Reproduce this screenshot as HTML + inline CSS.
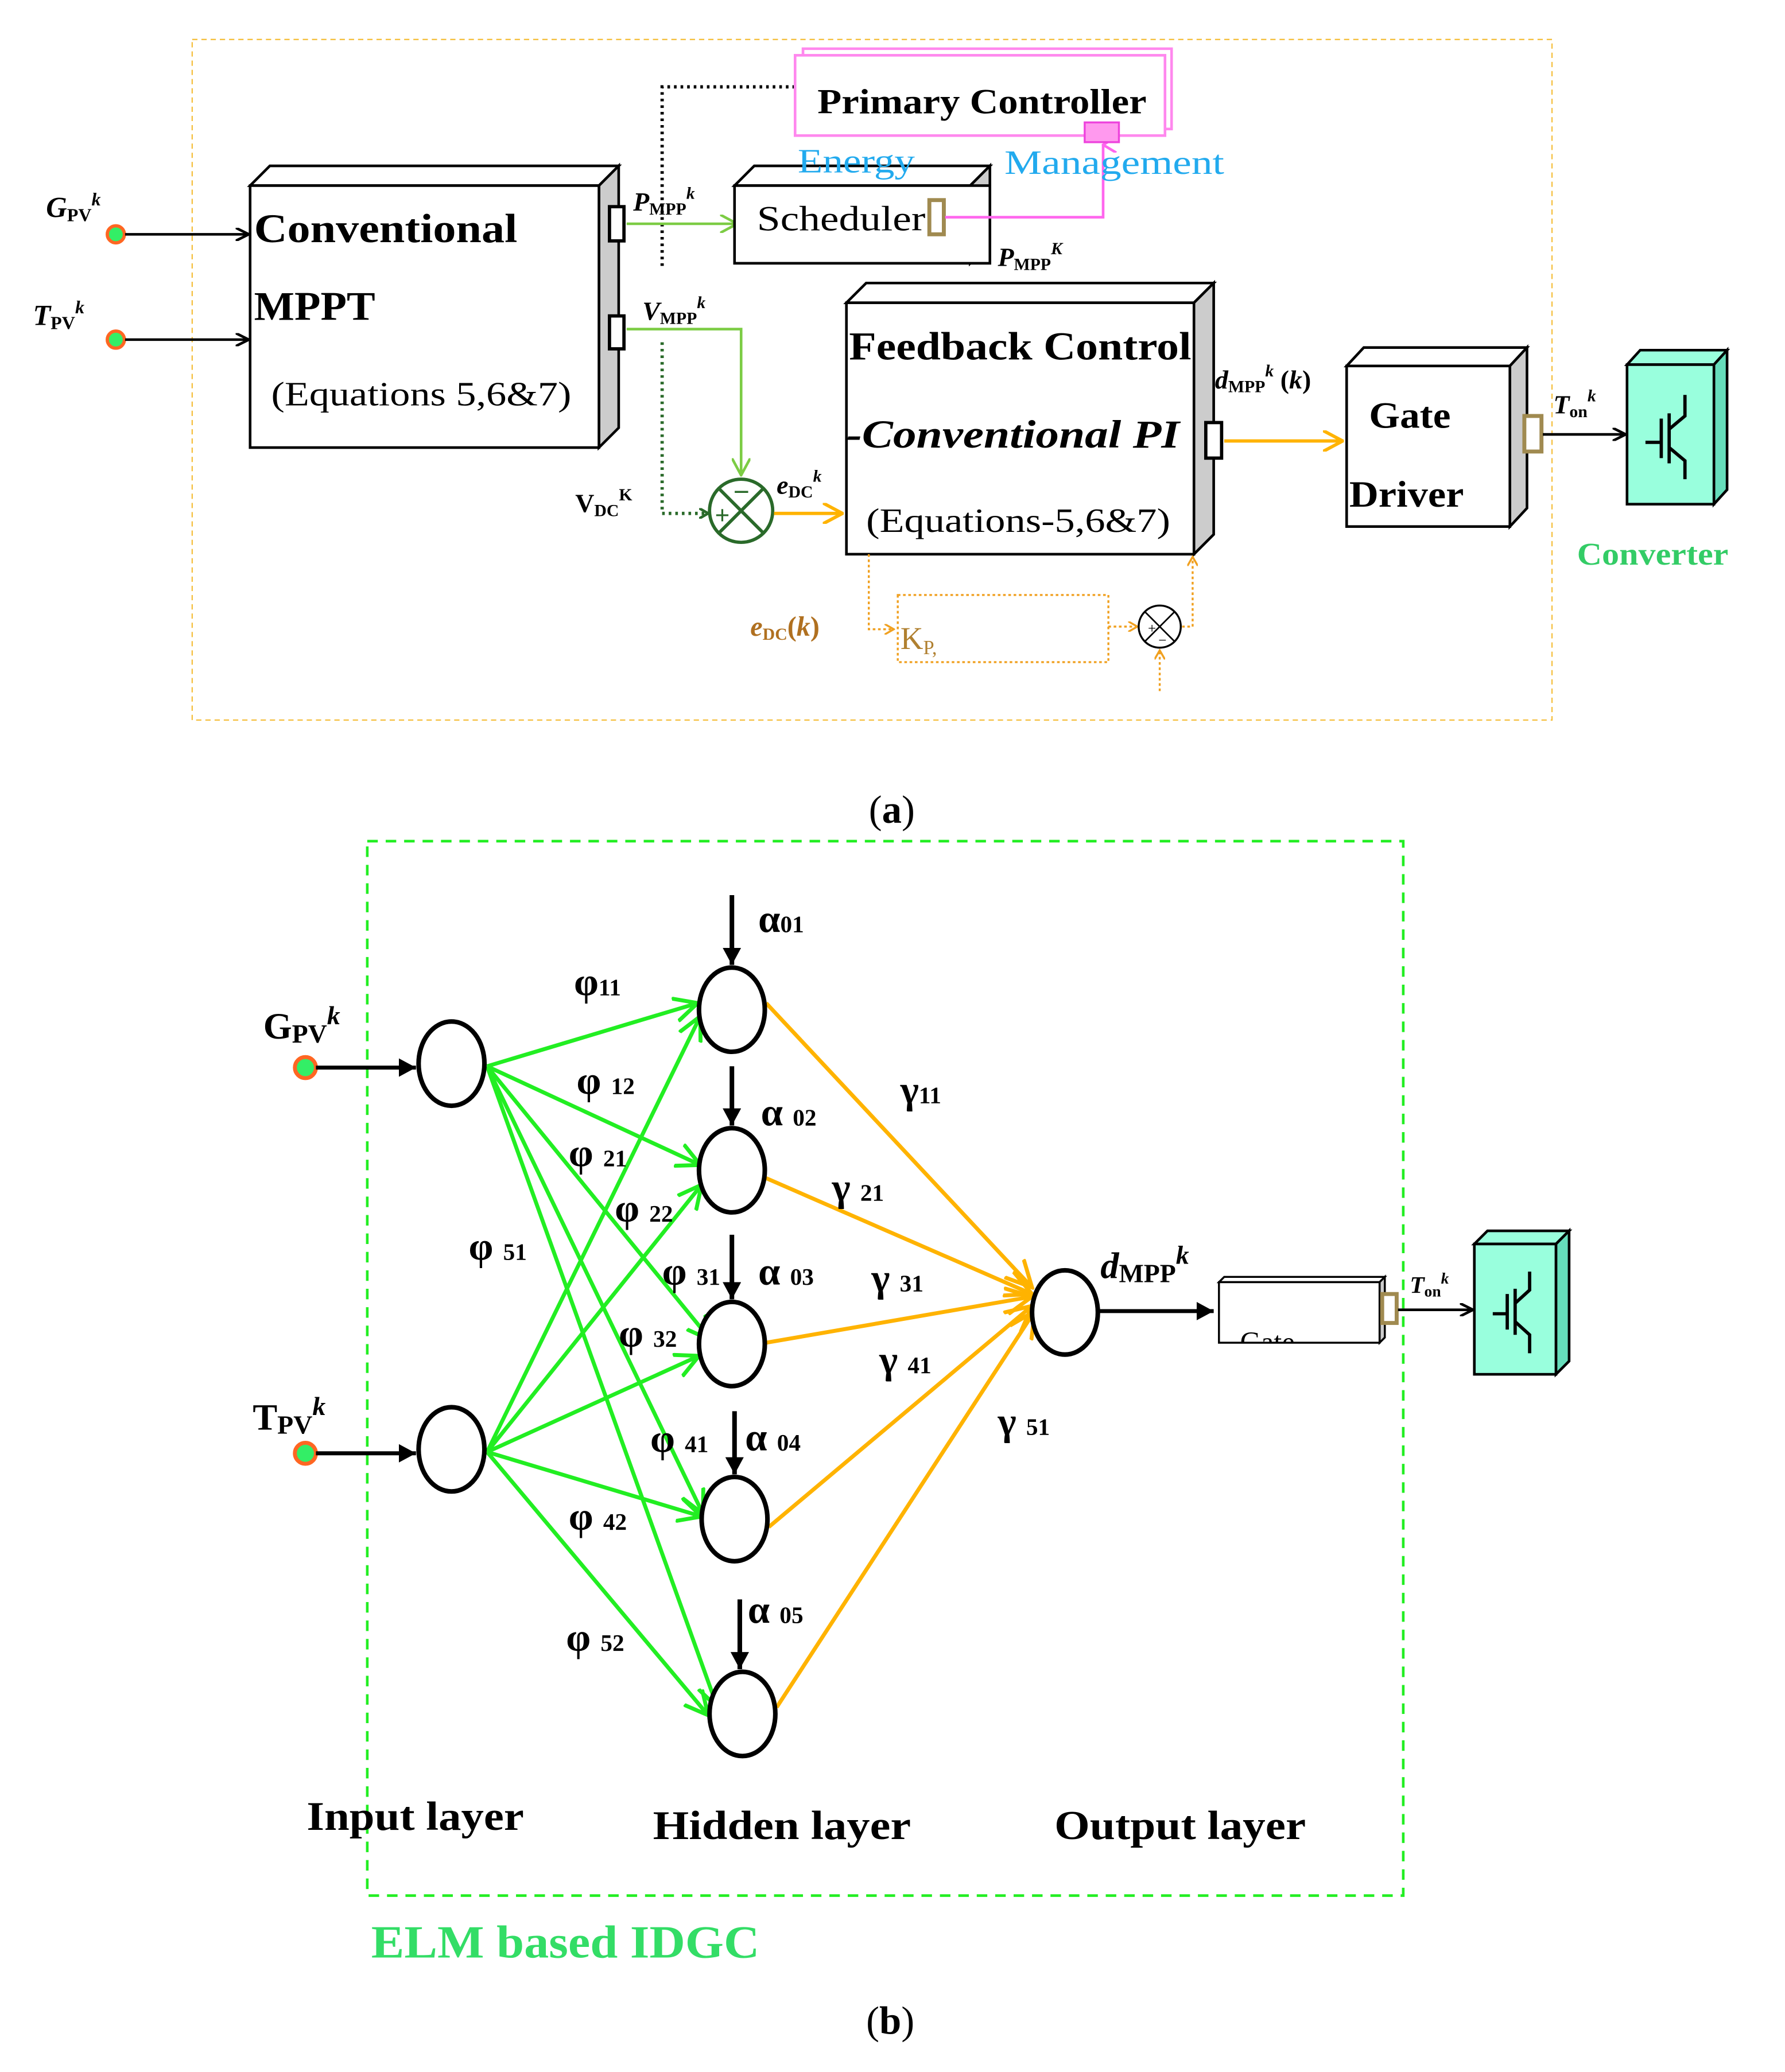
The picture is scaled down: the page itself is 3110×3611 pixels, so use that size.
<!DOCTYPE html>
<html><head><meta charset="utf-8"><style>
html,body{margin:0;padding:0;background:#fff}
svg{display:block}
text{font-family:"Liberation Serif",serif}
.b{font-weight:bold}
</style></head><body>
<svg xmlns="http://www.w3.org/2000/svg" width="3110" height="3611" viewBox="0 0 1356 1574" preserveAspectRatio="none">
<defs>
<marker id="ak" markerWidth="10" markerHeight="10" refX="9" refY="5" orient="auto" markerUnits="userSpaceOnUse"><path d="M0,0 L10,5 L0,10" fill="none" stroke="#000" stroke-width="2"/></marker>
<marker id="ag" markerWidth="14" markerHeight="14" refX="13" refY="7" orient="auto" markerUnits="userSpaceOnUse"><path d="M0,0 L13,7 L0,14" fill="none" stroke="#7ccc44" stroke-width="2"/></marker>
<marker id="agg" markerWidth="20" markerHeight="20" refX="18" refY="10" orient="auto" markerUnits="userSpaceOnUse"><path d="M0,1 L18,10 L0,19" fill="none" stroke="#22ee22" stroke-width="3"/></marker>
<marker id="ao" markerWidth="16" markerHeight="16" refX="15" refY="8" orient="auto" markerUnits="userSpaceOnUse"><path d="M0,0 L15,8 L0,16" fill="none" stroke="#ffb300" stroke-width="2.5"/></marker>
<marker id="aoo" markerWidth="22" markerHeight="22" refX="20" refY="11" orient="auto" markerUnits="userSpaceOnUse"><path d="M0,1 L20,11 L0,21" fill="none" stroke="#ffb300" stroke-width="3"/></marker>
<marker id="ap" markerWidth="12" markerHeight="12" refX="6" refY="1" orient="auto-start-reverse" markerUnits="userSpaceOnUse"><path d="M0,11 L6,1 L12,11" fill="none" stroke="#ff66ee" stroke-width="2"/></marker>
<marker id="ab" markerWidth="14" markerHeight="14" refX="13" refY="7" orient="auto" markerUnits="userSpaceOnUse"><path d="M0,0 L13,7 L0,14 Z" fill="#000"/></marker>
<marker id="ad" markerWidth="8" markerHeight="8" refX="7" refY="4" orient="auto" markerUnits="userSpaceOnUse"><path d="M0,0 L7,4 L0,8" fill="none" stroke="#2a6a2a" stroke-width="2"/></marker>
<marker id="aod" markerWidth="8" markerHeight="8" refX="7" refY="4" orient="auto" markerUnits="userSpaceOnUse"><path d="M0,0 L7,4 L0,8" fill="none" stroke="#f0a020" stroke-width="1.5"/></marker>
<clipPath id="clipE"><rect x="600" y="112" width="160" height="30"/></clipPath>
<clipPath id="clipG"><rect x="926" y="974" width="122" height="46"/></clipPath>
</defs>

<rect x="146" y="30" width="1033" height="517" fill="none" stroke="#f5c040" stroke-width="1" stroke-dasharray="4,3"/>

<polyline points="604,66 503,66 503,205" fill="none" stroke="#000" stroke-width="2.5" stroke-dasharray="2,3"/>
<polyline points="503,260 503,390 538,390" fill="none" stroke="#2a6a2a" stroke-width="2.5" stroke-dasharray="2,3" marker-end="url(#ad)"/>

<polygon points="190,141 205,126 470,126 455,141" fill="#fff" stroke="#000" stroke-width="2"/>
<polygon points="455,141 470,126 470,325 455,340" fill="#ccc" stroke="#000" stroke-width="2"/>
<rect x="190" y="141" width="265" height="199" fill="#fff" stroke="#000" stroke-width="2"/>
<text x="193" y="184" font-size="31" class="b" textLength="200" lengthAdjust="spacingAndGlyphs">Conventional</text>
<text x="193" y="243" font-size="31" class="b" textLength="92" lengthAdjust="spacingAndGlyphs">MPPT</text>
<text x="206" y="308" font-size="26" textLength="228" lengthAdjust="spacingAndGlyphs">(Equations 5,6&amp;7)</text>
<rect x="463" y="157" width="11" height="26" fill="#fff" stroke="#000" stroke-width="2.5"/>
<rect x="463" y="240" width="11" height="25" fill="#fff" stroke="#000" stroke-width="2.5"/>

<text x="35" y="165" font-size="22" class="b" font-style="italic">G<tspan font-size="14" dy="3" font-style="normal">PV</tspan><tspan font-size="14" dy="-12">k</tspan></text>
<circle cx="88" cy="178" r="6.5" fill="#33ee66" stroke="#ff6622" stroke-width="2.5"/>
<line x1="95" y1="178" x2="188" y2="178" stroke="#000" stroke-width="2" marker-end="url(#ak)"/>
<text x="25" y="247" font-size="22" class="b" font-style="italic">T<tspan font-size="14" dy="3" font-style="normal">PV</tspan><tspan font-size="14" dy="-12">k</tspan></text>
<circle cx="88" cy="258" r="6.5" fill="#33ee66" stroke="#ff6622" stroke-width="2.5"/>
<line x1="95" y1="258" x2="188" y2="258" stroke="#000" stroke-width="2" marker-end="url(#ak)"/>

<text x="481" y="160" font-size="20" class="b" font-style="italic">P<tspan font-size="13" dy="3" font-style="normal">MPP</tspan><tspan font-size="13" dy="-12">k</tspan></text>
<line x1="476" y1="170" x2="560" y2="170" stroke="#7ccc44" stroke-width="2" marker-end="url(#ag)"/>

<polygon points="558,141 573,126 752,126 737,141" fill="#fff" stroke="#000" stroke-width="2"/>
<polygon points="737,141 752,126 752,185 737,200" fill="#ccc" stroke="#000" stroke-width="2"/>
<rect x="558" y="141" width="194" height="59" fill="#fff" stroke="#000" stroke-width="2"/>
<text x="575" y="175" font-size="27" textLength="128" lengthAdjust="spacingAndGlyphs">Scheduler</text>
<rect x="706" y="152" width="11" height="26" fill="#fff" stroke="#a08a50" stroke-width="3"/>
<text x="758" y="202" font-size="20" class="b" font-style="italic">P<tspan font-size="13" dy="3" font-style="normal">MPP</tspan><tspan font-size="13" dy="-12">K</tspan></text>

<polyline points="718,165 838,165 838,110" fill="none" stroke="#ff66ee" stroke-width="2" marker-end="url(#ap)"/>

<rect x="604" y="42" width="281" height="61" fill="#fff" stroke="#ff88ee" stroke-width="2"/>
<polyline points="610,42 610,37 890,37 890,98 885,98" fill="none" stroke="#ff88ee" stroke-width="2"/>
<text x="621" y="86" font-size="27" class="b" textLength="250" lengthAdjust="spacingAndGlyphs">Primary Controller</text>
<rect x="824" y="93" width="26" height="15" fill="#ff99ee" stroke="#ee44dd" stroke-width="1.5"/>
<text x="606" y="131" font-size="26" fill="#22aaee" clip-path="url(#clipE)" textLength="89" lengthAdjust="spacingAndGlyphs">Energy</text>
<text x="763" y="132" font-size="26" fill="#22aaee" textLength="167" lengthAdjust="spacingAndGlyphs">Management</text>

<text x="488" y="243" font-size="20" class="b" font-style="italic">V<tspan font-size="13" dy="3" font-style="normal">MPP</tspan><tspan font-size="13" dy="-12">k</tspan></text>
<polyline points="476,250 563,250 563,361" fill="none" stroke="#7ccc44" stroke-width="2" marker-end="url(#ag)"/>

<circle cx="563" cy="388" r="24" fill="#fff" stroke="#2a6a2a" stroke-width="2.5"/>
<line x1="546" y1="371" x2="580" y2="405" stroke="#2a6a2a" stroke-width="2.5"/>
<line x1="580" y1="371" x2="546" y2="405" stroke="#2a6a2a" stroke-width="2.5"/>
<text x="557" y="381" font-size="22" class="b" fill="#2a6a2a">−</text>
<text x="543" y="398" font-size="20" class="b" fill="#2a6a2a">+</text>
<text x="437" y="389" font-size="20" class="b">V<tspan font-size="13" dy="3">DC</tspan><tspan font-size="13" dy="-12">K</tspan></text>
<text x="590" y="375" font-size="20" class="b" font-style="italic">e<tspan font-size="13" dy="3" font-style="normal">DC</tspan><tspan font-size="13" dy="-12">k</tspan></text>
<line x1="588" y1="390" x2="640" y2="390" stroke="#ffb300" stroke-width="2.5" marker-end="url(#ao)"/>

<polygon points="643,230 658,215 922,215 907,230" fill="#fff" stroke="#000" stroke-width="2"/>
<polygon points="907,230 922,215 922,406 907,421" fill="#ccc" stroke="#000" stroke-width="2"/>
<rect x="643" y="230" width="264" height="191" fill="#fff" stroke="#000" stroke-width="2"/>
<text x="645" y="273" font-size="30" class="b" textLength="260" lengthAdjust="spacingAndGlyphs">Feedback Control</text>
<text x="643" y="340" font-size="30" class="b" font-style="italic" textLength="253" lengthAdjust="spacingAndGlyphs">-Conventional PI</text>
<text x="658" y="404" font-size="26" textLength="231" lengthAdjust="spacingAndGlyphs">(Equations-5,6&amp;7)</text>
<rect x="916" y="321" width="12" height="27" fill="#fff" stroke="#000" stroke-width="2.5"/>
<text x="923" y="295" font-size="20" class="b" font-style="italic">d<tspan font-size="13" dy="3" font-style="normal">MPP</tspan><tspan font-size="13" dy="-12">k</tspan><tspan dy="9" font-style="normal"> (</tspan>k<tspan font-style="normal">)</tspan></text>
<line x1="930" y1="335" x2="1020" y2="335" stroke="#ffb300" stroke-width="2.5" marker-end="url(#ao)"/>

<polygon points="1023,278 1036,264 1160,264 1147,278" fill="#fff" stroke="#000" stroke-width="2"/>
<polygon points="1147,278 1160,264 1160,386 1147,400" fill="#ccc" stroke="#000" stroke-width="2"/>
<rect x="1023" y="278" width="124" height="122" fill="#fff" stroke="#000" stroke-width="2"/>
<text x="1040" y="325" font-size="28" class="b" textLength="62" lengthAdjust="spacingAndGlyphs">Gate</text>
<text x="1025" y="385" font-size="28" class="b" textLength="87" lengthAdjust="spacingAndGlyphs">Driver</text>
<rect x="1158" y="316" width="13" height="27" fill="#fff" stroke="#a08a50" stroke-width="3"/>
<line x1="1172" y1="330" x2="1234" y2="330" stroke="#000" stroke-width="2" marker-end="url(#ak)"/>
<text x="1180" y="314" font-size="20" class="b" font-style="italic">T<tspan font-size="13" dy="3" font-style="normal">on</tspan><tspan font-size="13" dy="-12">k</tspan></text>

<polygon points="1236,277 1246,266 1312,266 1302,277" fill="#99ffdd" stroke="#000" stroke-width="2"/>
<polygon points="1302,277 1312,266 1312,372 1302,383" fill="#66ddbb" stroke="#000" stroke-width="2"/>
<rect x="1236" y="277" width="66" height="106" fill="#99ffdd" stroke="#000" stroke-width="2"/>
<g stroke="#000" stroke-width="2.5" fill="none"><line x1="1262" y1="318" x2="1262" y2="348"/><line x1="1268" y1="314" x2="1268" y2="352"/><line x1="1250" y1="336" x2="1262" y2="336"/><polyline points="1268,326 1280,316 1280,300"/><polyline points="1268,340 1280,350 1280,364"/></g>
<text x="1198" y="429" font-size="24" class="b" fill="#33cc66" textLength="115" lengthAdjust="spacingAndGlyphs">Converter</text>

<polyline points="660,421 660,478 679,478" fill="none" stroke="#f0a020" stroke-width="1.5" stroke-dasharray="2,2" marker-end="url(#aod)"/>
<rect x="682" y="452" width="160" height="51" fill="none" stroke="#f0a020" stroke-width="1.5" stroke-dasharray="2,2"/>
<text x="684" y="493" font-size="24" fill="#b08030">K<tspan font-size="15" dy="4">P,</tspan></text>
<line x1="842" y1="476" x2="864" y2="476" stroke="#f0a020" stroke-width="1.5" stroke-dasharray="2,2" marker-end="url(#aod)"/>
<circle cx="881" cy="476" r="16" fill="#fff" stroke="#000" stroke-width="1.5"/>
<line x1="870" y1="465" x2="892" y2="487" stroke="#000" stroke-width="1.2"/>
<line x1="892" y1="465" x2="870" y2="487" stroke="#000" stroke-width="1.2"/>
<text x="872" y="481" font-size="11">+</text><text x="880" y="490" font-size="11">−</text>
<polyline points="898,476 906,476 906,423" fill="none" stroke="#f0a020" stroke-width="1.5" stroke-dasharray="2,2" marker-end="url(#aod)"/>
<line x1="881" y1="525" x2="881" y2="494" stroke="#f0a020" stroke-width="1.5" stroke-dasharray="2,2" marker-end="url(#aod)"/>
<text x="570" y="483" font-size="21" class="b" font-style="italic" fill="#b07020">e<tspan font-size="13" dy="3" font-style="normal">DC</tspan><tspan dy="-3" font-style="normal">(</tspan>k<tspan font-style="normal">)</tspan></text>

<text x="660" y="625" font-size="30">(<tspan class="b">a</tspan>)</text>

<rect x="279" y="639" width="787" height="801" fill="none" stroke="#22ee22" stroke-width="2" stroke-dasharray="8,6"/>

<g stroke="#22ee22" stroke-width="3" marker-end="url(#agg)">
<line x1="370" y1="810" x2="530" y2="762"/>
<line x1="370" y1="810" x2="532" y2="885"/>
<line x1="370" y1="810" x2="540" y2="1018"/>
<line x1="370" y1="810" x2="534" y2="1150"/>
<line x1="370" y1="810" x2="545" y2="1297"/>
<line x1="370" y1="1103" x2="532" y2="772"/>
<line x1="370" y1="1103" x2="533" y2="900"/>
<line x1="370" y1="1103" x2="531" y2="1030"/>
<line x1="370" y1="1103" x2="533" y2="1152"/>
<line x1="370" y1="1103" x2="538" y2="1303"/>
</g>
<g stroke="#ffb300" stroke-width="3" marker-end="url(#aoo)">
<line x1="582" y1="762" x2="784" y2="978"/>
<line x1="582" y1="895" x2="784" y2="983"/>
<line x1="582" y1="1020" x2="784" y2="985"/>
<line x1="584" y1="1160" x2="784" y2="992"/>
<line x1="590" y1="1297" x2="786" y2="996"/>
</g>

<g fill="#fff" stroke="#000" stroke-width="3.5">
<ellipse cx="343" cy="808" rx="25" ry="32"/>
<ellipse cx="343" cy="1101" rx="25" ry="32"/>
<ellipse cx="556" cy="767" rx="25" ry="32"/>
<ellipse cx="556" cy="889" rx="25" ry="32"/>
<ellipse cx="556" cy="1021" rx="25" ry="32"/>
<ellipse cx="558" cy="1154" rx="25" ry="32"/>
<ellipse cx="564" cy="1302" rx="25" ry="32"/>
<ellipse cx="809" cy="997" rx="25" ry="32"/>
</g>

<g stroke="#000" stroke-width="3.5" marker-end="url(#ab)">
<line x1="556" y1="680" x2="556" y2="733"/>
<line x1="556" y1="810" x2="556" y2="855"/>
<line x1="556" y1="938" x2="556" y2="987"/>
<line x1="558" y1="1072" x2="558" y2="1120"/>
<line x1="562" y1="1215" x2="562" y2="1268"/>
</g>

<circle cx="232" cy="811" r="8" fill="#33ee66" stroke="#ff6622" stroke-width="3"/>
<line x1="240" y1="811" x2="316" y2="811" stroke="#000" stroke-width="3" marker-end="url(#ab)"/>
<circle cx="232" cy="1104" r="8" fill="#33ee66" stroke="#ff6622" stroke-width="3"/>
<line x1="240" y1="1104" x2="316" y2="1104" stroke="#000" stroke-width="3" marker-end="url(#ab)"/>
<text x="200" y="789" font-size="28" class="b">G<tspan font-size="20" dy="3">PV</tspan><tspan font-size="20" dy="-14" font-style="italic">k</tspan></text>
<text x="192" y="1086" font-size="28" class="b">T<tspan font-size="20" dy="3">PV</tspan><tspan font-size="20" dy="-14" font-style="italic">k</tspan></text>

<g font-size="30" class="b">
<text x="576" y="708">α<tspan font-size="18">01</tspan></text>
<text x="578" y="855">α <tspan font-size="18">02</tspan></text>
<text x="576" y="976">α <tspan font-size="18">03</tspan></text>
<text x="566" y="1102">α <tspan font-size="18">04</tspan></text>
<text x="568" y="1233">α <tspan font-size="18">05</tspan></text>
<text x="436" y="756">φ<tspan font-size="18">11</tspan></text>
<text x="438" y="831">φ <tspan font-size="18">12</tspan></text>
<text x="432" y="886">φ <tspan font-size="18">21</tspan></text>
<text x="467" y="928">φ  <tspan font-size="18">22</tspan></text>
<text x="356" y="957">φ <tspan font-size="18">51</tspan></text>
<text x="503" y="976">φ <tspan font-size="18">31</tspan></text>
<text x="470" y="1023">φ <tspan font-size="18">32</tspan></text>
<text x="494" y="1103">φ <tspan font-size="18">41</tspan></text>
<text x="432" y="1162">φ <tspan font-size="18">42</tspan></text>
<text x="430" y="1254">φ <tspan font-size="18">52</tspan></text>
<text x="684" y="838">γ<tspan font-size="18">11</tspan></text>
<text x="632" y="912">γ <tspan font-size="18">21</tspan></text>
<text x="662" y="981">γ <tspan font-size="18">31</tspan></text>
<text x="668" y="1043">γ <tspan font-size="18">41</tspan></text>
<text x="758" y="1090">γ <tspan font-size="18">51</tspan></text>
</g>

<line x1="835" y1="996" x2="922" y2="996" stroke="#000" stroke-width="3" marker-end="url(#ab)"/>
<text x="836" y="971" font-size="28" class="b" font-style="italic">d<tspan font-size="20" dy="3" font-style="normal">MPP</tspan><tspan font-size="20" dy="-14">k</tspan></text>
<polygon points="926,974 930,970 1052,970 1048,974" fill="#fff" stroke="#000" stroke-width="1.5"/>
<polygon points="1048,974 1052,970 1052,1016 1048,1020" fill="#ccc" stroke="#000" stroke-width="1.5"/>
<rect x="926" y="974" width="122" height="46" fill="#fff" stroke="#000" stroke-width="1.5"/>
<text x="942" y="1027" font-size="22" clip-path="url(#clipG)">Gate</text>
<rect x="1050" y="983" width="11" height="22" fill="#fff" stroke="#a08a50" stroke-width="3"/>
<line x1="1062" y1="995" x2="1118" y2="995" stroke="#000" stroke-width="2" marker-end="url(#ak)"/>
<text x="1071" y="982" font-size="18" class="b" font-style="italic">T<tspan font-size="12" dy="3" font-style="normal">on</tspan><tspan font-size="12" dy="-10">k</tspan></text>
<polygon points="1120,945 1130,935 1192,935 1182,945" fill="#99ffdd" stroke="#000" stroke-width="2"/>
<polygon points="1182,945 1192,935 1192,1034 1182,1044" fill="#66ddbb" stroke="#000" stroke-width="2"/>
<rect x="1120" y="945" width="62" height="99" fill="#99ffdd" stroke="#000" stroke-width="2"/>
<g stroke="#000" stroke-width="2.5" fill="none"><line x1="1145" y1="983" x2="1145" y2="1010"/><line x1="1151" y1="979" x2="1151" y2="1014"/><line x1="1134" y1="998" x2="1145" y2="998"/><polyline points="1151,990 1162,980 1162,966"/><polyline points="1151,1004 1162,1014 1162,1028"/></g>

<text x="233" y="1390" font-size="31" class="b" textLength="165" lengthAdjust="spacingAndGlyphs">Input layer</text>
<text x="496" y="1397" font-size="31" class="b" textLength="196" lengthAdjust="spacingAndGlyphs">Hidden layer</text>
<text x="801" y="1397" font-size="31" class="b" textLength="191" lengthAdjust="spacingAndGlyphs">Output layer</text>
<text x="282" y="1487" font-size="35" class="b" fill="#33dd66" textLength="295" lengthAdjust="spacingAndGlyphs">ELM based IDGC</text>
<text x="658" y="1545" font-size="30">(<tspan class="b">b</tspan>)</text>
</svg>
</body></html>
